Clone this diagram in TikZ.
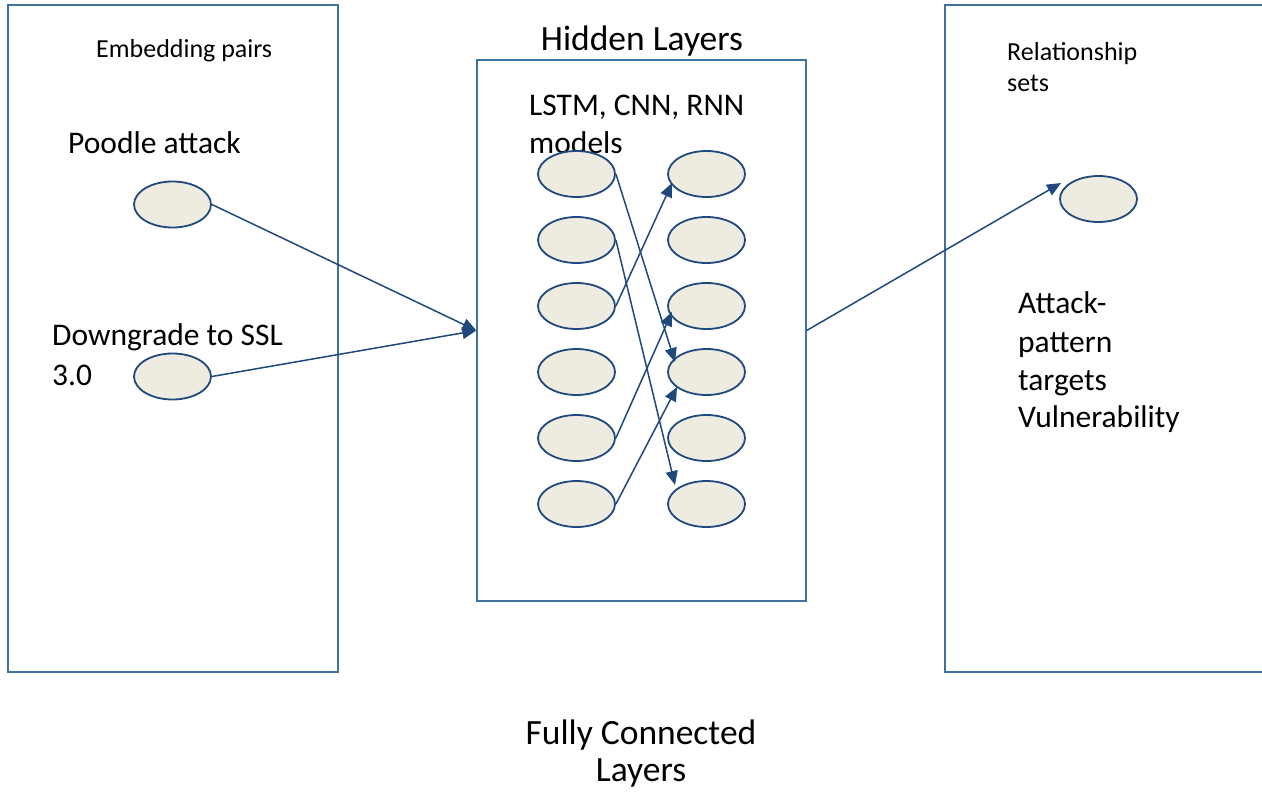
\documentclass[tikz,border=0pt]{standalone}
\usepackage{fontspec}
\setmainfont{Carlito}
\usetikzlibrary{arrows.meta,shapes.geometric}
\definecolor{boxc}{RGB}{65,113,156}
\definecolor{linec}{RGB}{31,73,125}
\definecolor{fillc}{RGB}{238,236,225}
\begin{document}
\begin{tikzpicture}[x=1pt,y=-1pt,
  panel/.style={draw=boxc, line width=1.3pt},
  emb/.style={ellipse, draw=linec, fill=fillc, line width=1.8pt, minimum width=77pt, minimum height=46pt, inner sep=0pt},
  conn/.style={draw=linec, line width=1.5pt, -{Triangle[length=14pt,width=12pt]}},
  small/.style={font=\fontsize{26}{32}\selectfont, inner sep=0pt, anchor=base west},
  mid/.style={font=\fontsize{31.5}{38}\selectfont, inner sep=0pt, anchor=base west},
  big/.style={font=\fontsize{35.5}{42}\selectfont, inner sep=0pt, anchor=base},
]
\useasboundingbox (0,0) rectangle (1262,793);
% panels
\node[panel, minimum width=330pt, minimum height=667pt, inner sep=0pt] (embbox) at (173,338.5) {};
\node[panel, minimum width=329pt, minimum height=541pt, inner sep=0pt] (hid) at (641.5,330.5) {};
\draw[panel] (1262,5) -- (945,5) -- (945,672) -- (1262,672);
% texts
\node[small] (tEmb) at (96,57) {Embedding pairs};
\node[mid] (tPoodle) at (68,153) {Poodle attack};
\node[mid] (tDown1) at (52,345) {Downgrade to SSL};
\node[mid] (tDown2) at (52,385) {3.0};
\node[big] (tHidden) at (642,50) {Hidden Layers};
\node[mid] (tLstm1) at (529,115) {LSTM, CNN, RNN};
\node[mid] (tLstm2) at (529,153) {models};
\node[small] (tRel1) at (1007,60) {Relationship};
\node[small] (tRel2) at (1007,91) {sets};
\node[mid] (tAtt1) at (1018,313) {Attack-};
\node[mid] (tAtt2) at (1018,352) {pattern};
\node[mid] (tAtt3) at (1018,390) {targets};
\node[mid] (tAtt4) at (1018,427) {Vulnerability};
\node[big] (tFull1) at (641,744) {Fully Connected};
\node[big] (tFull2) at (641,781) {Layers};
% ellipses
\node[emb] (p1) at (172.5,204.5) {};
\node[emb] (p2) at (172.5,376.5) {};
\foreach \i/\y in {1/174,2/240,3/306,4/372,5/438,6/504}{
  \node[emb] (L\i) at (576.5,\y) {};
  \node[emb] (R\i) at (706.5,\y) {};
}
\node[emb] (rel) at (1098.5,199) {};
% arrow end points
\coordinate (relin) at (1061,183);
\coordinate (e1) at (675,362);
\coordinate (e2) at (675,485);
\coordinate (e3) at (672,183);
\coordinate (e5) at (672,312);
\coordinate (e6) at (677,387);
% connectors
\draw[conn] (p1.east) -- (hid.west);
\draw[conn] (p2.east) -- (hid.west);
\draw[conn] (hid.east) -- (relin);
\draw[conn] (L1.east) -- (e1);
\draw[conn] (L2.east) -- (e2);
\draw[conn] (L3.east) -- (e3);
\draw[conn] (L5.east) -- (e5);
\draw[conn] (L6.east) -- (e6);
\end{tikzpicture}
\end{document}
